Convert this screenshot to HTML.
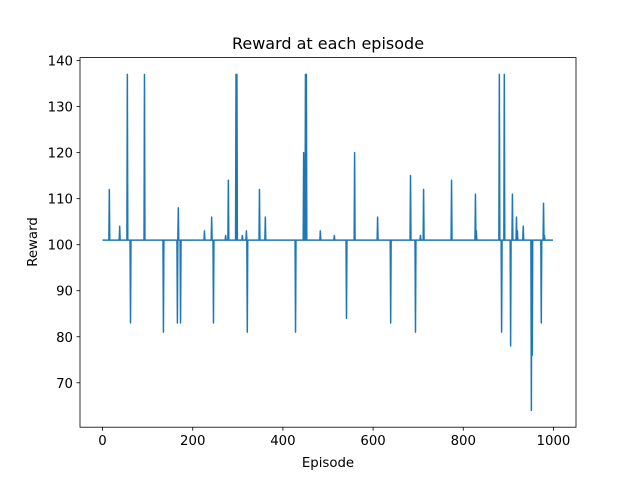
<!DOCTYPE html>
<html><head><meta charset="utf-8"><style>
body{margin:0;background:#fff;}
svg{display:block;font-family:"DejaVu Sans","Liberation Sans",sans-serif;}
</style></head><body>
<svg id="chart" width="640" height="480">
<rect width="640" height="480" fill="#fff"/>
<text x="328" y="49" text-anchor="middle" font-size="16">Reward at each episode</text>
<g id="plot"></g>
<rect x="80" y="57.6" width="496" height="369.6" fill="none" stroke="#000" stroke-width="0.8"/>
<text x="328" y="467" text-anchor="middle" font-size="13.3">Episode</text>
<text x="0" y="0" transform="translate(37,242) rotate(-90)" text-anchor="middle" font-size="13.3">Reward</text>
</svg>
<script>
const nEpisodes = 1000;
const baseline = 101;
const spikeEpisodes = [15,38,55,62,93,135,166,168,173,226,242,246,273,279,296,298,310,319,321,348,361,428,446,450,452,483,514,541,559,610,639,683,694,705,712,774,827,829,880,885,891,905,909,918,920,933,951,953,973,978,980];
const spikeValues   = [112,104,137,83,137,81,83,108,83,103,106,83,102,114,137,137,102,103,81,112,106,81,120,137,137,103,102,84,120,106,83,115,81,102,112,114,111,103,137,81,137,78,111,106,103,104,64,76,83,109,102];
const xTicks = [0,200,400,600,800,1000];
const yTicks = [70,80,90,100,110,120,130,140];

const L=80,R=576,T=57.6,B=427.2;
const xMin=-50,xMax=1050,yMin=60.35,yMax=140.65;
const sx=v=>L+(v-xMin)/(xMax-xMin)*(R-L);
const sy=v=>B-(v-yMin)/(yMax-yMin)*(B-T);
const NS="http://www.w3.org/2000/svg";
const svg=document.getElementById('chart');
const plot=document.getElementById('plot');

let d=`M${sx(0)},${sy(baseline)}`;
const order=spikeEpisodes.map((e,i)=>i).sort((a,b)=>spikeEpisodes[a]-spikeEpisodes[b]);
order.forEach(i=>{
  const e=spikeEpisodes[i];
  d+=` L${sx(e-1)},${sy(baseline)} L${sx(e)},${sy(spikeValues[i])} L${sx(e+1)},${sy(baseline)}`;
});
d+=` L${sx(nEpisodes-1)},${sy(baseline)}`;
const p=document.createElementNS(NS,'path');
p.setAttribute('d',d);
p.setAttribute('fill','none');
p.setAttribute('stroke','#1f77b4');
p.setAttribute('stroke-width','1.5');
p.setAttribute('stroke-linejoin','round');


plot.appendChild(p);

xTicks.forEach(t=>{
  const x=sx(t);
  const l=document.createElementNS(NS,'line');
  l.setAttribute('x1',x);l.setAttribute('x2',x);l.setAttribute('y1',B);l.setAttribute('y2',B+3.5);
  l.setAttribute('stroke','#000');l.setAttribute('stroke-width','0.8');
  
  
  svg.appendChild(l);
  const tx=document.createElementNS(NS,'text');
  tx.setAttribute('x',x);tx.setAttribute('y',B+18);tx.setAttribute('text-anchor','middle');tx.setAttribute('font-size','13.3');
  tx.textContent=t;
  
  
  svg.appendChild(tx);
});
yTicks.forEach(t=>{
  const y=sy(t);
  const l=document.createElementNS(NS,'line');
  l.setAttribute('x1',L-3.5);l.setAttribute('x2',L);l.setAttribute('y1',y);l.setAttribute('y2',y);
  l.setAttribute('stroke','#000');l.setAttribute('stroke-width','0.8');
  
  
  svg.appendChild(l);
  const tx=document.createElementNS(NS,'text');
  tx.setAttribute('x',L-7);tx.setAttribute('y',y+5);tx.setAttribute('text-anchor','end');tx.setAttribute('font-size','13.3');
  tx.textContent=t;
  
  
  svg.appendChild(tx);
});
</script>
</body></html>
